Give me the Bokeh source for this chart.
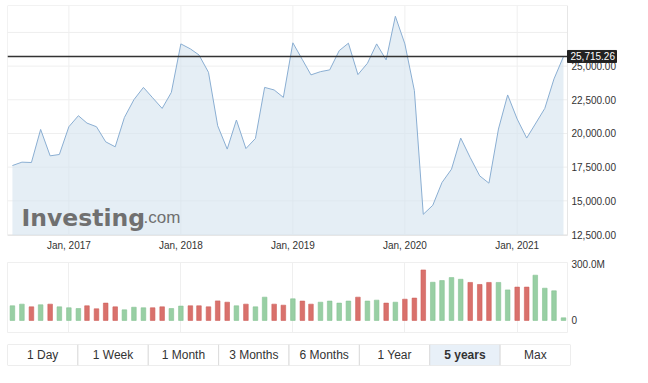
import pandas as pd
from bokeh.plotting import figure
from bokeh.models import Range1d, FixedTicker, Label, ColumnDataSource
from bokeh.layouts import column
from bokeh.core.properties import value
from bokeh.embed import file_html
from bokeh.resources import INLINE

# ---------------- data ----------------
months = pd.date_range("2016-07-01", periods=60, freq="MS")
prices = [17620, 17870, 17845, 20300, 18340, 18440, 20500, 21320, 20770, 20500,
          19380, 19010, 21190, 22510, 23420, 22650, 21860, 23050, 26650, 26280,
          25830, 24540, 20570, 18840, 21000, 18880, 19630, 23420, 23230, 22680,
          26730, 25480, 24350, 24590, 24720, 26150, 26700, 24370, 25210, 26650,
          25460, 28700, 26650, 23180, 14000, 14670, 16360, 17350, 19660, 18210,
          16850, 16310, 20330, 22860, 21070, 19660, 20700, 21860, 24050, 25715.26]
volumes_m = [78.6, 87.5, 73, 84, 87.5, 73, 68, 64, 78.6, 62.5,
             93, 73, 57, 71, 68, 68, 73, 64, 77, 78.6,
             78.6, 73, 105, 98, 78.6, 87.5, 73, 125, 87.5, 82,
             116, 104, 87.5, 98, 104, 93, 104, 125, 104, 109,
             93, 98, 114, 120, 271, 205, 214, 230, 221, 204,
             193, 204, 204, 164, 179, 179, 243, 173, 159, 14]
last_price = 25715.26
last_price_text = "25,715.26"

year_ticks = ["2017-01-01", "2018-01-01", "2019-01-01", "2020-01-01", "2021-01-01"]
year_labels = ["Jan, 2017", "Jan, 2018", "Jan, 2019", "Jan, 2020", "Jan, 2021"]
price_ticks = [12500, 15000, 17500, 20000, 22500, 25000]
price_labels = ["12,500.00", "15,000.00", "17,500.00", "20,000.00", "22,500.00", "25,000.00"]
price_grid = [12500, 15000, 17500, 20000, 22500, 25000, 27500]
vol_ticks = [0, 300e6]
vol_labels = ["0", "300.0M"]
buttons = ["1 Day", "1 Week", "1 Month", "3 Months", "6 Months", "1 Year", "5 years", "Max"]
selected_button = "5 years"

# ---------------- styling ----------------
FONT = "Liberation Sans"
GRID = "#efefef"
LINE = "#8aaed2"
GREEN = "#98cfa4"
RED = "#d9716c"

PLOT_W = 560          # width of the plotting area (px)
PLOT_H = 230          # height of the price plotting area (px)
AXIS_W = 65           # room on the right for price labels (px)
AXIS_H = 17           # room below for date labels (px)
year_dates = [pd.Timestamp(t) for t in year_ticks]
tick_ms = [d.value // 10**6 for d in year_dates]
x_start, x_plot_end = pd.Timestamp("2016-06-15"), pd.Timestamp("2021-06-14")
px_per_day = PLOT_W / (x_plot_end - x_start).days
x_frame_end = x_plot_end + pd.Timedelta(days=AXIS_W / px_per_day)

y_plot_lo, y_hi = 12426, 29500
units_per_px = (y_hi - y_plot_lo) / PLOT_H
y_frame_lo = y_plot_lo - AXIS_H * units_per_px

up = [True] + [prices[i] >= prices[i - 1] for i in range(1, len(prices))]
src = ColumnDataSource(dict(
    x=months,
    price=prices,
    vol=[v * 1e6 for v in volumes_m],
    color=[GREEN if u else RED for u in up],
    lcolor=["#86c394" if u else "#cf605b" for u in up],
))

# ---------------- price panel ----------------
p = figure(frame_width=PLOT_W + AXIS_W, frame_height=PLOT_H + AXIS_H,
           x_axis_type="datetime",
           x_range=Range1d(x_start, x_frame_end), y_range=Range1d(y_frame_lo, y_hi),
           x_axis_location=None, y_axis_location=None,
           output_backend="svg", toolbar_location=None,
           min_border_left=7, min_border_top=5, min_border_right=8, min_border_bottom=0)
p.outline_line_color = None
p.grid.visible = False

# grid lines limited to the plotting area
p.segment(x0=x_start, x1=x_plot_end, y0=price_grid, y1=price_grid, line_color=GRID, line_width=1)
p.segment(x0=year_dates, x1=year_dates, y0=y_plot_lo, y1=y_hi, line_color=GRID, line_width=1)
p.varea(x="x", y1=y_plot_lo, y2="price", source=src, fill_color="#d3e2ef", fill_alpha=0.6)
p.line(x="x", y="price", source=src, line_color=LINE, line_width=1)
# plot-area border
p.quad(left=x_start, right=x_plot_end, bottom=y_plot_lo, top=y_hi,
       fill_color=None, line_color="#e6e6e6", line_width=1)

# date labels (below)
p.text(x=year_dates, y=y_plot_lo, text=year_labels, y_offset=10,
       text_align="center", text_baseline="middle", text_font=value(FONT),
       text_font_size="10px", text_color="#333333")
# price tick labels (right side)
p.text(x=x_plot_end, y=price_ticks, text=price_labels, x_offset=4,
       text_align="left", text_baseline="middle", text_font=value(FONT),
       text_font_size="10px", text_color="#333333")

# current price line and box
p.segment(x0=x_start, x1=x_plot_end, y0=last_price, y1=last_price,
          line_color="#333333", line_width=1.3)
p.rect(x=x_plot_end + pd.Timedelta(days=24.5 / px_per_day), y=last_price,
       width=49, height=12, width_units="screen", height_units="screen",
       fill_color="#222222", line_color="#222222")
p.text(x=x_plot_end, y=last_price, text=[last_price_text], x_offset=3,
       text_align="left", text_baseline="middle", text_font=value(FONT),
       text_font_size="10px", text_color="white")

# watermark
p.add_layout(Label(x=14, y=18 + AXIS_H, x_units="screen", y_units="screen", text="Investing",
                   text_font="DejaVu Sans", text_font_style="bold", text_font_size="23.5px",
                   text_color="#707070", text_baseline="alphabetic"))
p.add_layout(Label(x=136, y=18 + AXIS_H, x_units="screen", y_units="screen", text=".com",
                   text_font=FONT, text_font_size="17px",
                   text_color="#707070", text_baseline="alphabetic"))


def style_axis(ax, standoff):
    ax.axis_line_color = None
    ax.major_tick_line_color = None
    ax.minor_tick_line_color = None
    ax.major_tick_out = 0
    ax.major_tick_in = 0
    ax.minor_tick_out = 0
    ax.major_label_text_font = FONT
    ax.major_label_text_font_size = "10px"
    ax.major_label_text_color = "#333333"
    ax.major_label_standoff = standoff


# ---------------- volume panel ----------------
v = figure(frame_width=PLOT_W, frame_height=71, x_axis_type="datetime",
           x_range=Range1d(x_start, x_plot_end),
           y_range=Range1d(-70e6, 311e6), y_axis_location="right",
           output_backend="svg", toolbar_location=None,
           min_border_left=7, min_border_top=10, min_border_right=73, min_border_bottom=0)
v.outline_line_color = "#efefef"
v.vbar(x="x", top="vol", bottom=0, width=15 * 86400000, source=src,
       fill_color="color", line_color="lcolor", line_width=0.6)
v.xaxis.visible = False
v.yaxis.ticker = FixedTicker(ticks=vol_ticks)
v.yaxis.major_label_overrides = dict(zip(vol_ticks, vol_labels))
style_axis(v.yaxis[0], 4)
v.xgrid.ticker = FixedTicker(ticks=tick_ms)
v.xgrid.grid_line_color = GRID
v.ygrid.grid_line_color = None

# ---------------- period buttons ----------------
b = figure(frame_width=563, frame_height=21, x_range=Range1d(0, len(buttons)),
           y_range=Range1d(0, 1), output_backend="svg", toolbar_location=None,
           min_border_left=7, min_border_top=11, min_border_right=70, min_border_bottom=1)
b.axis.visible = False
b.grid.visible = False
b.outline_line_color = None
idx = list(range(len(buttons)))
b.quad(left=idx, right=[i + 1 for i in idx], bottom=0, top=1,
       fill_color=["#e8f0f8" if t == selected_button else "white" for t in buttons],
       line_color="#dcdcdc", line_width=1)
norm = [i for i, t in enumerate(buttons) if t != selected_button]
sel = [i for i, t in enumerate(buttons) if t == selected_button]
b.text(x=[i + 0.5 for i in norm], y=0.5, text=[buttons[i] for i in norm],
       text_align="center", text_baseline="middle", text_font=value(FONT),
       text_font_size="12px", text_color="#333333")
b.text(x=[i + 0.5 for i in sel], y=0.5, text=[buttons[i] for i in sel],
       text_align="center", text_baseline="middle", text_font=value(FONT),
       text_font_size="12px", text_font_style="bold", text_color="#333333")

layout = column(p, v, b, spacing=0)
open("out.html", "w").write(file_html(layout, INLINE))
